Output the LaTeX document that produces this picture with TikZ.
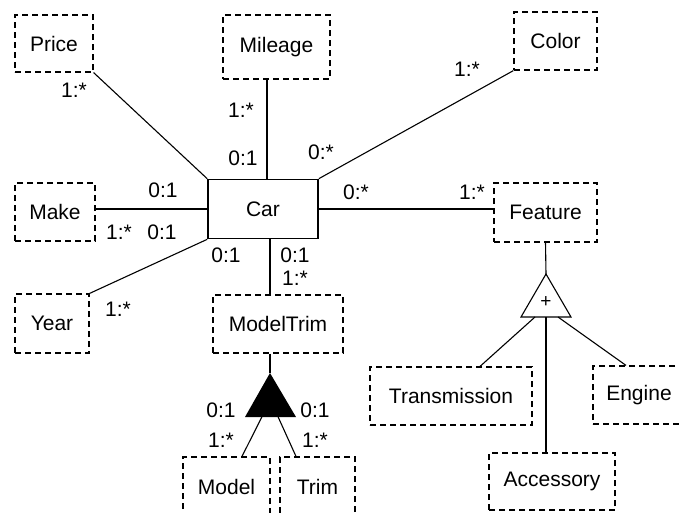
\documentclass[tikz,border=0pt]{standalone}
\usepackage{fontspec}
\setmainfont{Liberation Sans}
\usetikzlibrary{calc}
\begin{document}
\begin{tikzpicture}[x=1pt,y=-1pt,
  every node/.style={font=\fontsize{21}{25}\selectfont, inner sep=0pt},
  entity/.style={draw, dash pattern=on 6pt off 4pt, line width=1.2pt, rectangle},
  carbox/.style={draw, line width=1.7pt, rectangle},
  link/.style={line width=1.1pt},
  mult/.style={},
]
\useasboundingbox (0,0) rectangle (679,512);
\clip (0,0) rectangle (679,512);

% central entity
\node[carbox, minimum width=110pt, minimum height=59pt] (car) at (263,209) {Car};

% attribute entities
\node[entity, minimum width=78pt, minimum height=57pt] (price) at (54,43.5) {Price};
\node[entity, minimum width=107pt, minimum height=64pt] (mileage) at (276.5,47) {Mileage};
\node[entity, minimum width=83pt, minimum height=58pt] (color) at (555.5,41) {Color};
\node[entity, minimum width=80pt, minimum height=58pt] (make) at (55,212) {Make};
\node[entity, minimum width=103pt, minimum height=59pt] (feature) at (545.5,212.5) {Feature};
\node[entity, minimum width=74pt, minimum height=59pt] (year) at (52,323.5) {Year};
\node[entity, minimum width=130pt, minimum height=58pt] (modeltrim) at (278,324) {ModelTrim};
\node[entity, minimum width=87pt, minimum height=60pt] (model) at (226.5,487) {Model};
\node[entity, minimum width=75pt, minimum height=60pt] (trim) at (317.5,487) {Trim};
\node[entity, minimum width=162pt, minimum height=58pt] (transmission) at (451,396) {Transmission};
\node[entity, minimum width=92pt, minimum height=58pt] (engine) at (639,395) {Engine};
\node[entity, minimum width=126pt, minimum height=57pt] (accessory) at (552,481.5) {Accessory};

% associations from Car
\draw[link] (price.south east) -- (car.north west);
\draw[link] ([xshift=4pt]car.north) -- ([xshift=4pt]car.north |- mileage.south);
\draw[link] (car.north east) -- (color.south west);
\draw[link] (make.east |- car.west) -- (car.west);
\draw[link] (car.east) -- (car.east -| feature.west);
\draw[link] (car.south west) -- (year.north east);
\draw[link] ([xshift=7pt]car.south) -- ([xshift=7pt]car.south |- modeltrim.north);

% ModelTrim aggregation (filled triangle)
\coordinate (ma) at (270,373);
\coordinate (ml) at (245,417);
\coordinate (mr) at (296,417);
\fill (ma) -- (ml) -- (mr) -- cycle;
\draw[link] ([xshift=-8pt]modeltrim.south) -- (ma);
\draw[link] ($(ml)!0.33!(mr)$) -- ([xshift=15.5pt]model.north);
\draw[link] ($(ml)!0.65!(mr)$) -- ([xshift=-21.5pt]trim.north);

% Feature generalisation (hollow triangle)
\coordinate (fa) at (546,274);
\coordinate (fl) at (521,317);
\coordinate (fr) at (571,317);
\draw[link] (feature.south) -- (fa);
\draw[link] (fa) -- (fl) -- (fr) -- cycle;
\node[font=\fontsize{19}{20}\selectfont] (plus) at (546,302) {+};
\draw[link] ($(fl)!0.28!(fr)$) -- ([xshift=29pt]transmission.north);
\draw[link] ($(fl)!0.74!(fr)$) -- ([xshift=-13pt]engine.north);
\draw[link] ($(fl)!0.5!(fr)$) -- ([xshift=-6pt]accessory.north);

% multiplicities
\node[mult] (m1) at (74,90) {1:*};
\node[mult] (m2) at (241,110) {1:*};
\node[mult] (m3) at (243,158) {0:1};
\node[mult] (m4) at (321,152) {0:*};
\node[mult] (m5) at (467,69) {1:*};
\node[mult] (m6) at (163,190) {0:1};
\node[mult] (m7) at (119,232) {1:*};
\node[mult] (m8) at (162,232) {0:1};
\node[mult] (m9) at (356,192) {0:*};
\node[mult] (m10) at (472,192) {1:*};
\node[mult] (m11) at (226,255) {0:1};
\node[mult] (m12) at (295,255) {0:1};
\node[mult] (m13) at (295,278) {1:*};
\node[mult] (m14) at (118,309) {1:*};
\node[mult] (m15) at (221,410) {0:1};
\node[mult] (m16) at (315,410) {0:1};
\node[mult] (m17) at (221,440) {1:*};
\node[mult] (m18) at (315,440) {1:*};
\end{tikzpicture}
\end{document}
